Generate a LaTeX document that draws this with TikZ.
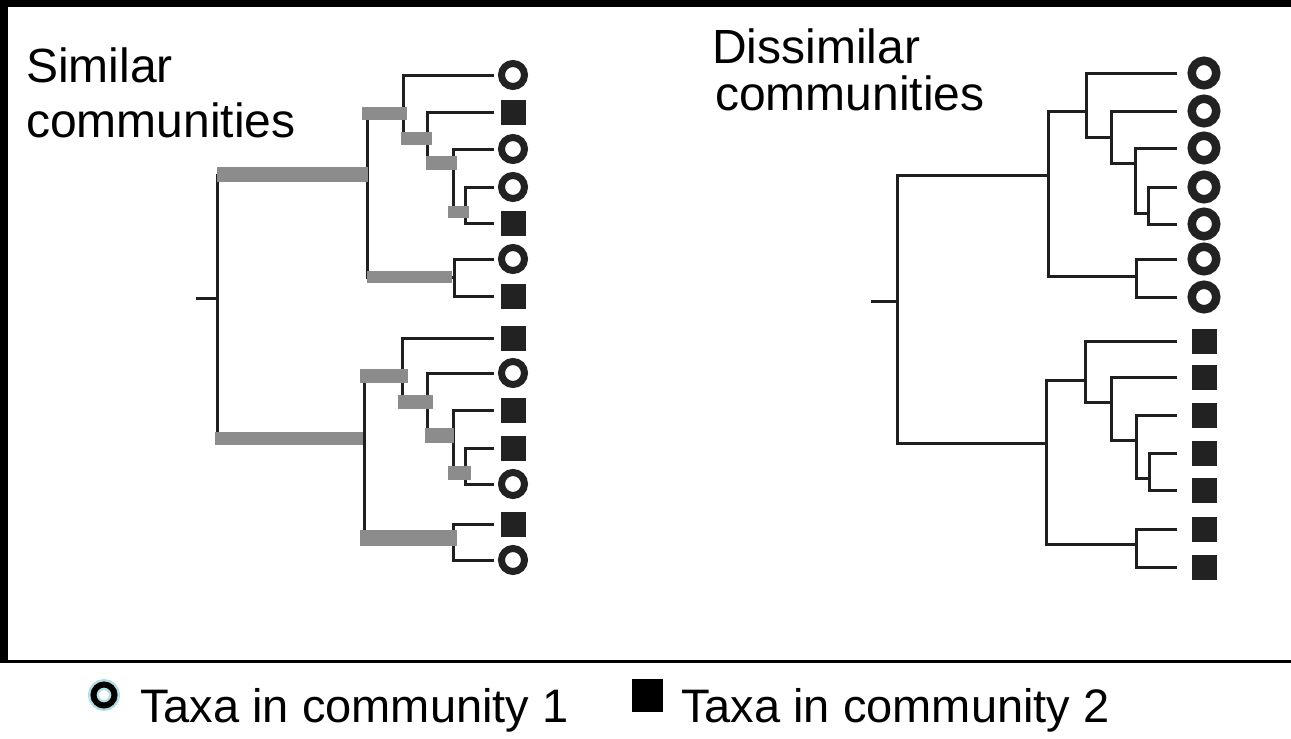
\documentclass[tikz,border=0pt]{standalone}
\usepackage{fontspec}
\setmainfont{Liberation Sans}
\definecolor{ink}{HTML}{1F1F1F}
\definecolor{symink}{HTML}{222222}
\definecolor{bar}{HTML}{8C8C8C}
\definecolor{halo}{HTML}{B5DEE2}
\tikzset{
  branch/.style={draw=ink, line width=3pt, line cap=rect, line join=miter},
  thickbar/.style={fill=bar, draw=none},
  title/.style={inner sep=0pt, anchor=base west, font=\fontsize{48}{55}\selectfont},
  keytext/.style={inner sep=0pt, anchor=base west, font=\fontsize{47}{55}\selectfont},
  % tip symbols of the left tree
  LO/.style={circle, draw=symink, line width=7pt, minimum size=23pt, inner sep=0pt, outer sep=9.5pt},
  LS/.style={rectangle, fill=symink, minimum size=25pt, inner sep=0pt, outer sep=8.5pt},
  % tip symbols of the right tree
  RO/.style={circle, draw=symink, line width=8.5pt, minimum size=24.5pt, inner sep=0pt, outer sep=16.75pt},
  RS/.style={rectangle, fill=symink, minimum size=25pt, inner sep=0pt, outer sep=16.5pt},
}
\begin{document}
\begin{tikzpicture}[x=1pt, y=-1pt]
\useasboundingbox (0,0) rectangle (1291,739);
\fill[white] (0,0) rectangle (1291,739);

% frame
\fill[black] (0,0) rectangle (1291,7);
\fill[black] (0,0) rectangle (8,663);
\fill[black] (0,660) rectangle (1291,663);

% titles
\node[title] (simA) at (26,82) {Similar};
\node[title] (simB) at (26,137) {communities};
\node[title] (disA) at (712,63) {Dissimilar};
\node[title] (disB) at (715,110) {communities};

% ---------- left tree ----------
\foreach \n/\y/\s in {1/75/LO, 2/112/LS, 3/149/LO, 4/187/LO, 5/223/LS, 6/259/LO, 7/296/LS,
                      8/338/LS, 9/373/LO, 10/410/LS, 11/448/LS, 12/484/LO, 13/524/LS, 14/560/LO}
  \node[\s] (Lt\n) at (513,\y) {};

\coordinate (Lstub) at (197,298);
\coordinate (Lroot) at (217,298);
\coordinate (LP) at (367,175);
\coordinate (LA) at (403,113);
\coordinate (LB) at (427,138);
\coordinate (LC) at (453,163);
\coordinate (LD) at (465,212);
\coordinate (LE) at (454,277);
\coordinate (LQ) at (364,438);
\coordinate (LF) at (402,376);
\coordinate (LG) at (427,402);
\coordinate (LH) at (453,435);
\coordinate (LI) at (465,473);
\coordinate (LJ) at (453,538);

\draw[branch] (Lstub) -- (Lroot);
\foreach \p/\c in {Lroot/LP, Lroot/LQ, LP/LA, LP/LE, LA/Lt1, LA/LB, LB/Lt2, LB/LC,
                   LC/Lt3, LC/LD, LD/Lt4, LD/Lt5, LE/Lt6, LE/Lt7,
                   LQ/LF, LQ/LJ, LF/Lt8, LF/LG, LG/Lt9, LG/LH, LH/Lt10, LH/LI,
                   LI/Lt11, LI/Lt12, LJ/Lt13, LJ/Lt14}
  \draw[branch] (\p) |- (\c);

% thick grey branches
\fill[thickbar] (217,167) rectangle (368,182);
\fill[thickbar] (362,107) rectangle (407,120);
\fill[thickbar] (401,132) rectangle (432,145);
\fill[thickbar] (426,156) rectangle (457,170);
\fill[thickbar] (448,206) rectangle (469,218);
\fill[thickbar] (367,271) rectangle (452,283);
\fill[thickbar] (215,432) rectangle (363,445);
\fill[thickbar] (360,369) rectangle (408,383);
\fill[thickbar] (398,395) rectangle (433,409);
\fill[thickbar] (425,428) rectangle (454,443);
\fill[thickbar] (448,466) rectangle (471,480);
\fill[thickbar] (360,530) rectangle (457,546);

% ---------- right tree ----------
\foreach \n/\y/\s in {1/73/RO, 2/111/RO, 3/148/RO, 4/187/RO, 5/224/RO, 6/259/RO, 7/297/RO,
                      8/341/RS, 9/377/RS, 10/415/RS, 11/453/RS, 12/490/RS, 13/529/RS, 14/567/RS}
  \node[\s] (Rt\n) at (1204,\y) {};

\coordinate (Rstub) at (872,301);
\coordinate (Rroot) at (897,301);
\coordinate (Rp) at (1048,175);
\coordinate (Ra) at (1086,111);
\coordinate (Rb) at (1111,137);
\coordinate (Rc) at (1135,163);
\coordinate (Rd) at (1148,213);
\coordinate (Re) at (1136,276);
\coordinate (Rq) at (1046,443);
\coordinate (Rf) at (1085,380);
\coordinate (Rg) at (1111,402);
\coordinate (Rh) at (1136,440);
\coordinate (Ri) at (1149,478);
\coordinate (Rj) at (1136,544);

\draw[branch] (Rstub) -- (Rroot);
\foreach \p/\c in {Rroot/Rp, Rroot/Rq, Rp/Ra, Rp/Re, Ra/Rt1, Ra/Rb, Rb/Rt2, Rb/Rc,
                   Rc/Rt3, Rc/Rd, Rd/Rt4, Rd/Rt5, Re/Rt6, Re/Rt7,
                   Rq/Rf, Rq/Rj, Rf/Rt8, Rf/Rg, Rg/Rt9, Rg/Rh, Rh/Rt10, Rh/Ri,
                   Ri/Rt11, Ri/Rt12, Rj/Rt13, Rj/Rt14}
  \draw[branch] (\p) |- (\c);

% ---------- legend ----------
\node[circle, draw=halo, line width=11pt, minimum size=21pt, inner sep=0pt] (keyhalo) at (104,695) {};
\node[circle, draw=black, line width=6pt, minimum size=21pt, inner sep=0pt] (keyO) at (104,695) {};
\node[rectangle, fill=black, minimum width=31pt, minimum height=33pt, inner sep=0pt] (keyS) at (647.5,695.5) {};
\node[keytext] (keyOtext) at (140,722) {Taxa in community 1};
\node[keytext] (keyStext) at (681,722) {Taxa in community 2};
\end{tikzpicture}
\end{document}
